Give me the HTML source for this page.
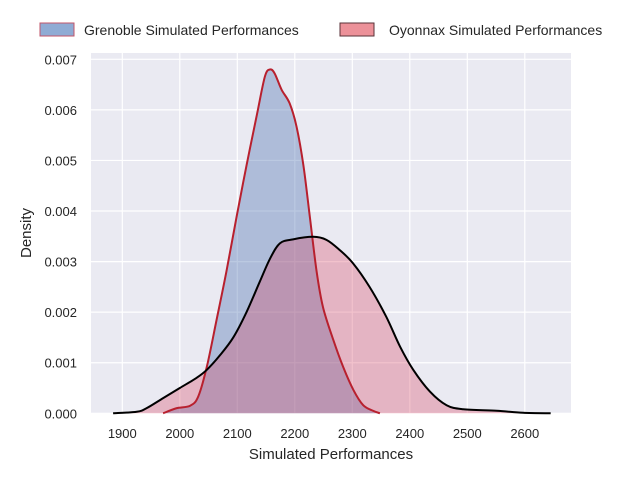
<!DOCTYPE html>
<html><head><meta charset="utf-8"><style>
body{margin:0;background:#fff;font-family:"Liberation Sans",sans-serif}
svg text{font-family:"Liberation Sans",sans-serif;fill:#262626}
</style></head><body>
<svg width="640" height="480" viewBox="0 0 640 480">
<rect x="0" y="0" width="640" height="480" fill="#fff"/>
<rect x="91" y="53" width="480" height="360" fill="#eaeaf2"/>
<g id="grid"></g>
<g id="series"></g>
<g id="ticks"></g>
<text x="331" y="459" font-size="15" text-anchor="middle">Simulated Performances</text>
<text transform="translate(31,233) rotate(-90)" font-size="15" text-anchor="middle">Density</text>
<g>
<g>
<rect x="40" y="23" width="34" height="13" fill="#8fabd4" stroke="#c0546a" stroke-width="1"/>
<text x="84" y="35" font-size="14">Grenoble Simulated Performances</text></g>
<g>
<rect x="340" y="23" width="34" height="13" fill="#ec9199" stroke="#5a3238" stroke-width="1"/>
<text x="389" y="35" font-size="14">Oyonnax Simulated Performances</text></g>
</g>
</svg>
<script>
const xTicks=[1900,2000,2100,2200,2300,2400,2500,2600];
const yTicks=[0,0.001,0.002,0.003,0.004,0.005,0.006,0.007];
const yTickLabels=["0.000","0.001","0.002","0.003","0.004","0.005","0.006","0.007"];
const grenobleX=[1971,1994,2018,2032,2047,2064,2081,2099,2116,2134,2148,2157,2165,2177,2191,2203,2215,2226,2238,2249,2267,2284,2302,2319,2336,2348];
const grenobleY=[0,0.0001,0.00015,0.00033,0.00092,0.00185,0.0028,0.0039,0.0049,0.0059,0.00666,0.0068,0.00672,0.0064,0.00613,0.00567,0.0049,0.0039,0.0028,0.0021,0.00145,0.00092,0.00046,0.00016,0.00005,0];
const oyonnaxX=[1884,1925,1942,1971,2000,2029,2047,2070,2093,2116,2139,2157,2174,2197,2232,2255,2278,2301,2330,2359,2383,2406,2435,2464,2493,2551,2597,2645];
const oyonnaxY=[0,0.00003,0.0001,0.0003,0.0005,0.0007,0.00086,0.00115,0.0015,0.002,0.0026,0.00306,0.00336,0.00344,0.00349,0.00343,0.00323,0.00297,0.0025,0.00191,0.00132,0.00086,0.00043,0.00016,0.00008,0.00005,0.00001,0];
const NS="http://www.w3.org/2000/svg";
const L=91,R=571,T=53,B=413;
const x=v=>122.3+(v-1900)*0.575;
const y=v=>413.3-v*50570;
function mk(tag,attrs,parent){const e=document.createElementNS(NS,tag);for(const k in attrs)e.setAttribute(k,attrs[k]);parent.appendChild(e);return e;}
const grid=document.getElementById('grid'),ticks=document.getElementById('ticks'),series=document.getElementById('series');
xTicks.forEach(t=>{
 const g=mk('line',{x1:x(t),x2:x(t),y1:T,y2:B,stroke:'#fff','stroke-width':1.2},grid);
 
 
 const tx=mk('text',{x:x(t),y:438,'font-size':13,'text-anchor':'middle'},ticks);tx.textContent=t;
 
 
});
yTicks.forEach((t,i)=>{
 const g=mk('line',{x1:L,x2:R,y1:y(t),y2:y(t),stroke:'#fff','stroke-width':1.2},grid);
 
 
 const tx=mk('text',{x:77,y:y(t)+5,'font-size':13,'text-anchor':'end'},ticks);tx.textContent=yTickLabels[i];
 
 
});
function smooth(xs,ys){const p=xs.map((v,i)=>[x(v),y(ys[i])]);let d='M'+p[0][0]+','+p[0][1];
 for(let i=0;i<p.length-1;i++){const p0=p[i-1]||p[i],p1=p[i],p2=p[i+1],p3=p[i+2]||p2;
  const c1=[p1[0]+(p2[0]-p0[0])/6,p1[1]+(p2[1]-p0[1])/6],c2=[p2[0]-(p3[0]-p1[0])/6,p2[1]-(p3[1]-p1[1])/6];
  d+=` C${c1[0]},${Math.min(c1[1],413.3)} ${c2[0]},${Math.min(c2[1],413.3)} ${p2[0]},${p2[1]}`;}
 return d;}
function drawSeries(xs,ys,fill,stroke,name){
 const d=smooth(xs,ys);
 const f=mk('path',{d:d+` L${x(xs[xs.length-1])},${y(0)} L${x(xs[0])},${y(0)} Z`,fill:fill,stroke:'none'},series);
 
 
 return d;}
const dg=drawSeries(grenobleX,grenobleY,'rgba(76,114,176,0.38)','#b22234','grenoble');
const dy=drawSeries(oyonnaxX,oyonnaxY,'rgba(217,70,100,0.33)','#000','oyonnax');
const lg=mk('path',{d:dg,fill:'none',stroke:'#b8202e','stroke-width':2},series);


const ly=mk('path',{d:dy,fill:'none',stroke:'#000','stroke-width':2},series);


</script>
</body></html>
